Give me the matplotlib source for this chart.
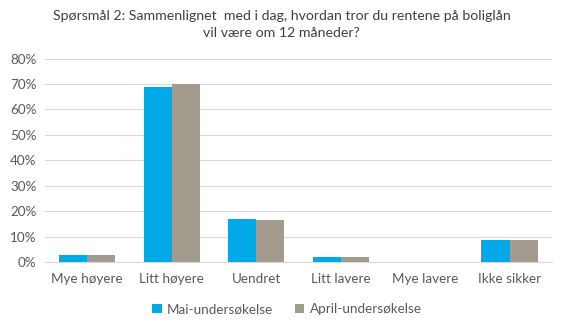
import matplotlib
matplotlib.use("Agg")
import matplotlib.pyplot as plt
import numpy as np
from matplotlib.ticker import FuncFormatter

categories = ["Mye høyere", "Litt høyere", "Uendret", "Litt lavere", "Mye lavere", "Ikke sikker"]
mai = [2.8, 68.8, 17.0, 2.0, 0.0, 8.6]
april = [2.8, 69.8, 16.3, 2.0, 0.0, 8.6]
series_names = ["Mai-undersøkelse", "April-undersøkelse"]
title = "Spørsmål 2: Sammenlignet  med i dag, hvordan tror du rentene på boliglån\nvil være om 12 måneder?"

plt.rcParams['font.family'] = ['Lato', 'DejaVu Sans']

fig = plt.figure(figsize=(5.63, 3.27), dpi=100)
ax = fig.add_axes([0.08, 0.199, 0.90, 0.622])

x = np.arange(len(categories))
w = 0.332
ax.bar(x - w/2, mai, w, color="#00A9E8", label=series_names[0], zorder=3)
ax.bar(x + w/2, april, w, color="#A39B8E", label=series_names[1], zorder=3)

ax.set_xlim(-0.5, len(categories) - 0.5)
ax.set_ylim(0, 80)
ax.set_yticks(np.arange(0, 81, 10))
ax.yaxis.set_major_formatter(FuncFormatter(lambda v, p: f"{int(v)}%"))
ax.set_xticks(x)
ax.set_xticklabels(categories)
ax.grid(axis="y", color="#D9D9D9", linewidth=0.8, zorder=0)
for s in ["top", "right", "left"]:
    ax.spines[s].set_visible(False)
ax.spines["bottom"].set_color("#D9D9D9")
ax.tick_params(axis="both", length=0, labelsize=9.7, colors="#595959", pad=6)
ax.tick_params(axis="x", pad=8)

fig.suptitle(title, fontsize=10.2, color="#404040", y=0.97, linespacing=1.55)
fig.legend(loc="center", bbox_to_anchor=(0.51, 0.055), ncol=2, frameon=False,
           fontsize=9.7, handlelength=0.7, handleheight=0.7, handletextpad=0.4,
           columnspacing=1.6, labelcolor="#595959")

fig.savefig("out.png", dpi=100)
